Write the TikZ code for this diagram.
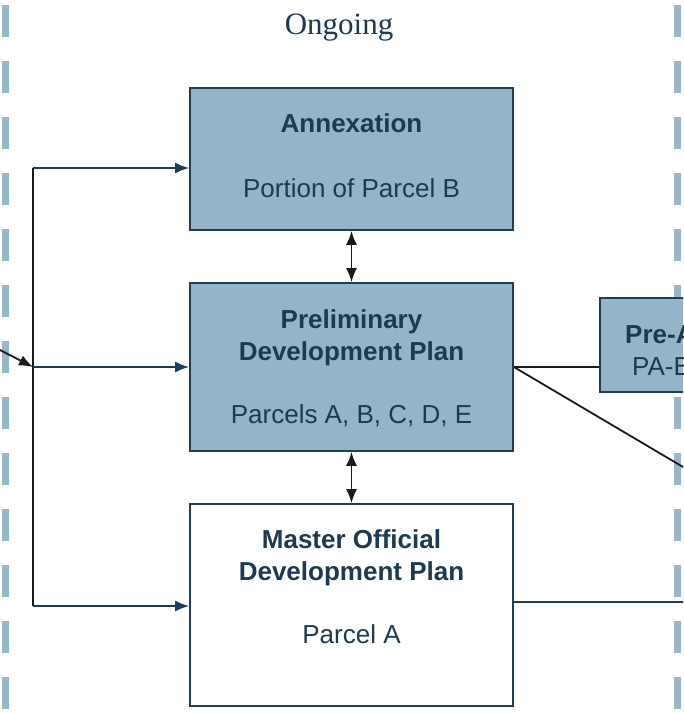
\documentclass[tikz,border=0pt]{standalone}
\usepackage{fontspec}
\setmainfont{Liberation Sans}
\newfontfamily\headserif{Liberation Serif}
\usetikzlibrary{arrows.meta}
\definecolor{navy}{HTML}{1F3D57}
\definecolor{boxfill}{HTML}{94B4C7}
\definecolor{dashblue}{HTML}{96B6C9}
\definecolor{txt}{HTML}{1E3A52}
\definecolor{ink}{HTML}{1A1A1A}
\begin{document}
\begin{tikzpicture}[x=1pt,y=-1pt,
  box/.style={draw=navy, line width=1.8pt, inner sep=0pt},
  title/.style={anchor=base, inner sep=0pt, text=txt, font=\bfseries\fontsize{26}{30}\selectfont},
  body/.style={anchor=base, inner sep=0pt, text=txt, font=\fontsize{26}{30}\selectfont},
  lane/.style={draw=dashblue, line width=7pt, dash pattern=on 32pt off 24pt},
  tip/.style={-{Latex[length=14pt,width=11pt]}},
  feed/.style={draw=navy, line width=1.8pt, tip},
  link/.style={draw=ink, line width=1.8pt},
  both/.style={draw=ink, line width=1.8pt, {Latex[length=14pt,width=11pt]}-{Latex[length=14pt,width=11pt]}}
]
\useasboundingbox (0,0) rectangle (683,714);
\clip (0,0) rectangle (683,714);
\fill[white] (0,0) rectangle (683,714);

% lane dividers
\coordinate (lt) at (5.5,5); \coordinate (lb) at (5.5,720);
\coordinate (rt) at (677,5); \coordinate (rb) at (677,720);
\draw[lane] (lt) -- (lb);
\draw[lane] (rt) -- (rb);

\node[anchor=base, inner sep=0pt, text=txt, font=\headserif\fontsize{31}{36}\selectfont] (ongoing) at (339,35) {Ongoing};

% boxes
\node[box, fill=boxfill, minimum width=323pt, minimum height=142pt] (annex) at (351.5,159) {};
\node[box, fill=boxfill, minimum width=323pt, minimum height=168pt] (prelim) at (351.5,367) {};
\node[box, fill=white, minimum width=323pt, minimum height=202pt] (master) at (351.5,605) {};
\node[box, fill=boxfill, minimum width=220pt, minimum height=94pt] (prea) at (710,345) {};

% texts
\node[title] (annexT) at (351.5,133) {Annexation};
\node[body] (annexB) at (351.5,197) {Portion of Parcel B};
\node[title] (prelimT1) at (351.5,328) {Preliminary};
\node[title] (prelimT2) at (351.5,360) {Development Plan};
\node[body] (prelimB) at (351.5,423) {Parcels A, B, C, D, E};
\node[title] (masterT1) at (351.5,548) {Master Official};
\node[title] (masterT2) at (351.5,580) {Development Plan};
\node[body] (masterB) at (351.5,643) {Parcel A};
\node[title, anchor=base west] (preaT) at (625,343) {Pre-Annexation};
\node[body, anchor=base west] (preaB) at (632,375) {PA-B};

% connectors
\coordinate (ttop) at (33,168);
\coordinate (tbot) at (33,606);
\coordinate (jl) at (33,367);
\coordinate (inc) at (-2,349);
\coordinate (diagend) at (700,477);
\coordinate (mr) at (690,601.5);

\draw[link] (ttop) -- (tbot);
\draw[feed] (ttop) -- (ttop -| annex.west);
\draw[feed] (jl) -- (jl -| prelim.west);
\draw[feed] (tbot) -- (tbot -| master.west);
\draw[link, tip] (inc) -- (jl);

\draw[both] (annex.south) -- (prelim.north);
\draw[both] (prelim.south) -- (master.north);

\draw[link] (prelim.east) -- (prelim.east -| prea.west);
\draw[link] (prelim.east) -- (diagend);
\draw[draw=navy, line width=2pt] (mr -| master.east) -- (mr);
\end{tikzpicture}
\end{document}
